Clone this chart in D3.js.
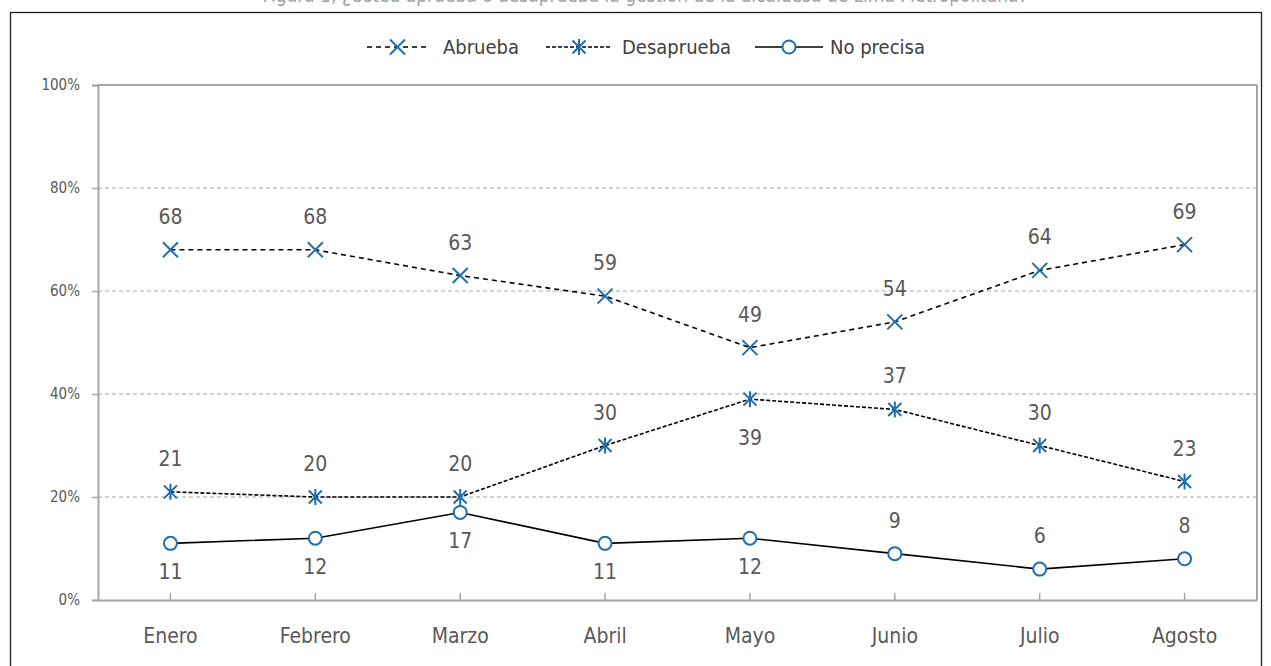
<!DOCTYPE html>
<html>
<head>
<meta charset="utf-8">
<script src="https://cdn.jsdelivr.net/npm/d3@7"></script>
<style>
  html, body { margin: 0; padding: 0; background: #fff; }
  svg { display: block; }
  text { font-family: "DejaVu Sans Condensed", "DejaVu Sans", sans-serif; }
</style>
</head>
<body>
<svg id="chart" width="1271" height="666"></svg>
<script>
// ---- data ----
const categories = ["Enero", "Febrero", "Marzo", "Abril", "Mayo", "Junio", "Julio", "Agosto"];
const abrueba    = [68, 68, 63, 59, 49, 54, 64, 69];
const desaprueba = [21, 20, 20, 30, 39, 37, 30, 23];
const noPrecisa  = [11, 12, 17, 11, 12, 9, 6, 8];
const abruebaLabelSide    = ["above","above","above","above","above","above","above","above"];
const desapruebaLabelSide = ["above","above","above","above","below","above","above","above"];
const noPrecisaLabelSide  = ["below","below","below","below","below","above","above","above"];
const yTicks = [0, 20, 40, 60, 80, 100];
const seriesNames = ["Abrueba", "Desaprueba", "No precisa"];
const titleText = "Figura 1, ¿Usted aprueba o desaprueba la gestión de la alcaldesa de Lima Metropolitana?";

// ---- layout ----
const svg = d3.select("#chart");
const blue = "#1f6fad";
const textGrey = "#595959";
const axisGrey = "#a6a6a6";
const plot = { left: 98, right: 1257, top: 85, bottom: 600 };
const FONT = "'DejaVu Sans Condensed', 'DejaVu Sans', sans-serif";

const x = d3.scaleBand().domain(categories).range([plot.left, plot.right]);
const cx = c => x(c) + x.bandwidth() / 2;
const y = d3.scaleLinear().domain([0, 100]).range([plot.bottom, plot.top]);

// partially clipped title at top
svg.append("text")
  .attr("x", 645).attr("y", 2)
  .attr("text-anchor", "middle")
  .attr("font-size", 19)
  .attr("textLength", 765).attr("lengthAdjust", "spacingAndGlyphs")
  .attr("fill", "#a0a0a0")
  .text(titleText);

// outer frame
svg.append("rect")
  .attr("x", 10.5).attr("y", 12.5)
  .attr("width", 1251).attr("height", 700)
  .attr("fill", "none").attr("stroke", "#222").attr("stroke-width", 1.3);

// gridlines
svg.append("g").selectAll("line")
  .data(yTicks.filter(t => t > 0 && t < 100))
  .join("line")
  .attr("x1", plot.left).attr("x2", plot.right)
  .attr("y1", d => y(d)).attr("y2", d => y(d))
  .attr("stroke", "#a6a6a6").attr("stroke-width", 1)
  .attr("stroke-dasharray", "4,3");

// plot border (top, right)
svg.append("line").attr("x1", plot.left).attr("x2", plot.right)
  .attr("y1", y(100)).attr("y2", y(100))
  .attr("stroke", axisGrey).attr("stroke-width", 2);
svg.append("line").attr("x1", plot.right).attr("x2", plot.right)
  .attr("y1", y(100)).attr("y2", y(0))
  .attr("stroke", axisGrey).attr("stroke-width", 2);

// y axis
const yAxis = d3.axisLeft(y).tickValues(yTicks).tickFormat(d => d + "%").tickSize(6).tickPadding(12);
const gy = svg.append("g").attr("transform", `translate(${plot.left},0)`).call(yAxis);
gy.select(".domain").attr("stroke", axisGrey).attr("stroke-width", 2);
gy.selectAll(".tick line").attr("stroke", axisGrey).attr("stroke-width", 1.5);
gy.selectAll(".tick text").attr("font-size", 15).attr("fill", textGrey).attr("font-family", FONT);

// x axis
const xAxis = d3.axisBottom(x).tickSize(0).tickPadding(28);
const gx = svg.append("g").attr("transform", `translate(0,${plot.bottom})`).call(xAxis);
gx.select(".domain").attr("stroke", axisGrey).attr("stroke-width", 2);
gx.selectAll(".tick text").attr("font-size", 21).attr("fill", textGrey).attr("font-family", FONT);
gx.selectAll(".tick").append("line")
  .attr("y1", -7).attr("y2", 0)
  .attr("stroke", axisGrey).attr("stroke-width", 1.5);

// marker drawers
function drawMarker(g, type, px, py) {
  const s = 7.5;
  if (type === "x") {
    g.append("path").attr("d", `M${px-s},${py-s}L${px+s},${py+s}M${px-s},${py+s}L${px+s},${py-s}`)
      .attr("stroke", blue).attr("stroke-width", 2).attr("fill", "none");
  } else if (type === "star") {
    const t = 6.5;
    g.append("path").attr("d", `M${px-t},${py-t}L${px+t},${py+t}M${px-t},${py+t}L${px+t},${py-t}M${px},${py-t-1.5}L${px},${py+t+1.5}`)
      .attr("stroke", blue).attr("stroke-width", 2).attr("fill", "none");
  } else {
    g.append("circle").attr("cx", px).attr("cy", py).attr("r", 6.5)
      .attr("fill", "#fff").attr("stroke", blue).attr("stroke-width", 2);
  }
}

const series = [
  { name: seriesNames[0], values: abrueba, sides: abruebaLabelSide, dash: "5,4", marker: "x" },
  { name: seriesNames[1], values: desaprueba, sides: desapruebaLabelSide, dash: "4,2", marker: "star" },
  { name: seriesNames[2], values: noPrecisa, sides: noPrecisaLabelSide, dash: null, marker: "circle" }
];

const line = d3.line().x((d, i) => cx(categories[i])).y(d => y(d));

series.forEach(s => {
  svg.append("g").append("path").datum(s.values)
    .attr("d", line)
    .attr("fill", "none").attr("stroke", "#000").attr("stroke-width", 1.6)
    .attr("stroke-dasharray", s.dash);
});
series.forEach(s => {
  const g = svg.append("g");
  s.values.forEach((v, i) => drawMarker(g, s.marker, cx(categories[i]), y(v)));
  g.selectAll("text").data(s.values).join("text")
    .attr("x", (d, i) => cx(categories[i]))
    .attr("y", (d, i) => {
      const side = s.sides[i];
      if (side === "above") return y(d) - 26;
      return y(d) + (s.name === "Desaprueba" ? 46 : 36);
    })
    .attr("text-anchor", "middle")
    .attr("font-size", 21).attr("fill", textGrey)
    .text(d => d);
});

// legend
const legendItems = [
  { x1: 367, x2: 428, tx: 443, s: series[0] },
  { x1: 546, x2: 612, tx: 622, s: series[1] },
  { x1: 755, x2: 823, tx: 830, s: series[2] }
];
const ly = 47;
const lg = svg.append("g");
legendItems.forEach(it => {
  lg.append("line").attr("x1", it.x1).attr("x2", it.x2).attr("y1", ly).attr("y2", ly)
    .attr("stroke", "#000").attr("stroke-width", 1.6).attr("stroke-dasharray", it.s.dash);
  drawMarker(lg, it.s.marker, (it.x1 + it.x2) / 2, ly);
  lg.append("text").attr("x", it.tx).attr("y", ly + 7)
    .attr("font-size", 20).attr("fill", "#404040").text(it.s.name);
});
</script>
</body>
</html>
